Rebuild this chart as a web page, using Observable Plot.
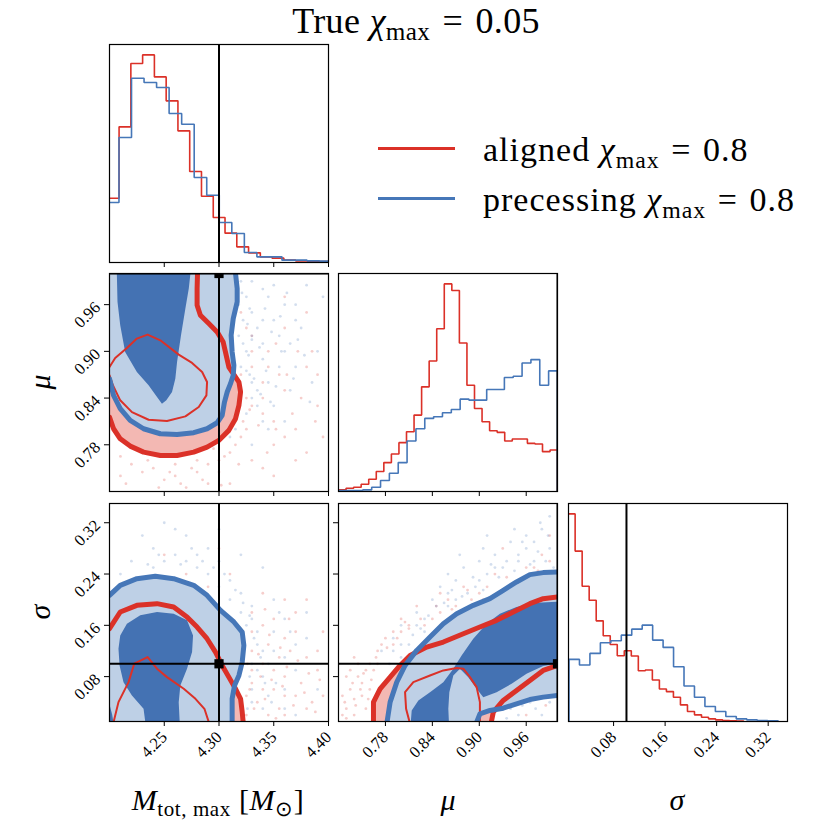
<!DOCTYPE html>
<html><head><meta charset="utf-8">
<script src="https://cdn.jsdelivr.net/npm/d3@7"></script>
<script src="https://cdn.jsdelivr.net/npm/@observablehq/plot@0.6"></script>
<style>
body{margin:0;background:#fff;}
#wrap{position:relative;width:831px;height:831px;font-family:"Liberation Serif",serif;color:#000;overflow:hidden;}
.txt{position:absolute;white-space:nowrap;line-height:1;}
.sub{font-size:0.7em;vertical-align:-0.28em;font-style:normal;}
.eq{margin:0 0.34em;}
.leg{position:absolute;height:3px;}
</style></head><body><div id="wrap"></div>
<script>
// ---------- data ----------
const mTicks = [4.25, 4.30, 4.35, 4.40];
const muTicks = [0.78, 0.84, 0.90, 0.96];
const sigTicks = [0.08, 0.16, 0.24, 0.32];
const mDomain = [4.2, 4.4], muDomain = [0.72, 1.0], sigDomain = [0.01, 0.35];
const truthM = 4.30, truthMu = 1.0, truthSig = 0.10;

// histograms (bin start, bin width, heights)
const mRedStart = 4.198, mRedWidth = 0.01075;
const mHistRed = [193,407,597,623,557,485,395,273,199,135,88,47,29,17,13,7,5,4,3];
const mBlueStart = 4.1972, mBlueWidth = 0.01145;
const mHistBlue = [180,375,553,540,525,447,415,255,202,120,87,30,17,17,7,7,5,4];

const muRedStart = 0.72, muRedWidth = 0.00966;
const muHistRed = [5,10,13,22,37,60,87,113,147,180,230,315,393,490,625,605,447,320,250,210,183,178,152,158,158,145,143,120,125];
const muBlueStart = 0.7172, muBlueWidth = 0.01131;
const muHistBlue = [3,3,3,5,13,33,55,87,152,189,220,225,237,247,278,275,275,307,307,343,347,387,397,320,363];

const sigRedStart = 0.0094, sigRedWidth = 0.0109;
const sigHistRed = [625,513,407,365,303,258,232,198,213,197,153,155,125,98,90,73,50,30,20,13,8,5,3,2,1];
const sigBlueStart = 0.0108, sigBlueWidth = 0.01623;
const sigHistBlue = [187,170,205,237,243,260,278,290,245,223,165,107,73,45,30,15,8,5,3,2];

// 2D contours (M_tot,max vs mu)
const blueOuter21 = [[4.19,0.865],[4.2,0.8649],[4.2037,0.8435],[4.2098,0.8263],[4.2189,0.8113],[4.2311,0.8006],[4.2464,0.7942],[4.2617,0.7933],[4.2769,0.7955],[4.2891,0.8006],[4.2983,0.8083],[4.3029,0.8178],[4.3050,0.8349],[4.3075,0.8478],[4.3105,0.8585],[4.3130,0.8692],[4.3136,0.8821],[4.3120,0.8992],[4.3111,0.9207],[4.3130,0.9421],[4.3166,0.9636],[4.3166,0.9807],[4.3151,1.0],[4.315,1.012],[4.19,1.012]];
const darkBlue21 = [[4.2067,1.012],[4.2067,1.0],[4.2073,0.9636],[4.2098,0.9335],[4.2143,0.8992],[4.2250,0.8735],[4.2357,0.8564],[4.2434,0.8413],[4.2479,0.8328],[4.2519,0.8371],[4.2571,0.8478],[4.2601,0.8649],[4.2617,0.8864],[4.2653,0.9207],[4.2693,0.955],[4.2724,0.9807],[4.2739,1.0],[4.2739,1.012]];
const redOuter21 = [[4.2806,1.012],[4.2800,0.9807],[4.2800,0.9593],[4.2830,0.9464],[4.2907,0.9357],[4.2983,0.9250],[4.3038,0.9121],[4.3066,0.8949],[4.3090,0.8799],[4.3136,0.8701],[4.3182,0.8606],[4.3197,0.8478],[4.3182,0.8306],[4.3151,0.8135],[4.3090,0.7985],[4.2998,0.7856],[4.2891,0.7770],[4.2769,0.7706],[4.2617,0.7663],[4.2464,0.7663],[4.2311,0.7706],[4.2189,0.7783],[4.2098,0.7877],[4.2037,0.8006],[4.2000,0.8156],[4.19,0.82],[4.19,1.012]];
const redInner21 = [[4.2000,0.8799],[4.2052,0.8915],[4.2159,0.9044],[4.2250,0.9164],[4.2348,0.9215],[4.2464,0.9142],[4.2632,0.8958],[4.2754,0.8851],[4.2846,0.8735],[4.2891,0.8606],[4.2885,0.8435],[4.2815,0.8285],[4.2693,0.8165],[4.2525,0.8105],[4.2357,0.8122],[4.2205,0.8220],[4.2098,0.8371],[4.2031,0.8564],[4.2000,0.8692],[4.195,0.875],[4.2000,0.8799]];
const blueDots21 = [[4.325,0.97],[4.33,0.95],[4.335,0.93],[4.322,0.91],[4.34,0.89],[4.328,0.87],[4.345,0.86],[4.33,0.84],[4.35,0.83],[4.36,0.96],[4.355,0.92],[4.37,0.88],[4.38,0.985],[4.365,0.85],[4.34,0.98],[4.32,0.99],[4.375,0.93],[4.39,0.9],[4.325,0.82],[4.345,0.80],[4.36,0.81],[4.385,0.86],[4.33,0.78],[4.35,0.94],[4.31,0.995],[4.395,0.97],[4.34,0.91],[4.36,0.90],[4.32,0.85],[4.37,0.96],
  [4.318,0.96],[4.322,0.94],[4.318,0.92],[4.325,0.90],[4.32,0.88],[4.33,0.86],[4.335,0.83],[4.34,0.81],[4.315,0.80],[4.31,0.79],[4.33,0.99],[4.345,0.97],[4.35,0.985],[4.33,0.92],[4.34,0.94],[4.325,0.875],[4.335,0.85],[4.355,0.88],[4.365,0.91],[4.37,0.94],
  [4.321,0.975],[4.328,0.955],[4.326,0.935],[4.33,0.915],[4.327,0.895],[4.337,0.905],[4.343,0.875],[4.332,0.865],[4.338,0.845],[4.347,0.835],[4.352,0.855],[4.357,0.9],[4.348,0.925],[4.356,0.945],[4.342,0.955],[4.362,0.975],[4.372,0.915],[4.368,0.865],[4.378,0.895],[4.383,0.835]];
const redDots21 = [[4.24,0.75],[4.26,0.74],[4.28,0.76],[4.22,0.755],[4.30,0.745],[4.29,0.73],[4.31,0.77],[4.32,0.79],[4.33,0.76],[4.34,0.82],[4.35,0.78],[4.36,0.85],[4.37,0.80],[4.38,0.88],[4.39,0.83],[4.33,0.88],[4.345,0.90],[4.36,0.93],[4.38,0.95],[4.325,0.84],[4.31,0.73],[4.27,0.725],[4.25,0.735],[4.35,0.74],[4.37,0.76],[4.395,0.79],[4.33,0.92],[4.355,0.87],[4.34,0.86],[4.30,0.76],[4.21,0.765],[4.385,0.9],[4.32,0.95],[4.36,0.97],
  [4.26,0.755],[4.28,0.745],[4.295,0.775],[4.315,0.78],[4.325,0.8],[4.33,0.83],[4.34,0.84],[4.32,0.87],[4.33,0.90],[4.325,0.93],[4.35,0.81],[4.36,0.79],[4.23,0.745],[4.245,0.725],[4.21,0.74],[4.285,0.735],[4.34,0.75],[4.375,0.84],[4.39,0.87],[4.38,0.77],
  [4.255,0.745],[4.265,0.73],[4.275,0.75],[4.29,0.755],[4.305,0.765],[4.318,0.755],[4.322,0.81],[4.328,0.825],[4.336,0.805],[4.344,0.77],[4.352,0.8],[4.345,0.88],[4.352,0.91],[4.362,0.87],[4.367,0.82],[4.372,0.9],[4.235,0.76],[4.215,0.73],[4.302,0.728],[4.388,0.81]];

// 2D contours (M_tot,max vs sigma)
const blueOuter31 = [[4.19,0.2068],[4.2,0.2068],[4.2098,0.2224],[4.2250,0.2328],[4.2418,0.2365],[4.2586,0.2328],[4.2769,0.2224],[4.2891,0.2068],[4.3014,0.1834],[4.3136,0.1652],[4.3212,0.1495],[4.3227,0.1287],[4.3212,0.1027],[4.3182,0.0818],[4.3142,0.0662],[4.3120,0.0454],[4.3120,0.0089],[4.312,-0.005],[4.19,-0.005]];
const redOuter31 = [[4.19,0.15],[4.2,0.1547],[4.2098,0.1808],[4.2250,0.1912],[4.2434,0.1938],[4.2586,0.1886],[4.2708,0.1730],[4.2800,0.1573],[4.2891,0.1391],[4.2968,0.1183],[4.3029,0.0975],[4.3090,0.0792],[4.3151,0.0610],[4.3197,0.0454],[4.3212,0.0246],[4.3221,0.0089],[4.3222,-0.005],[4.19,-0.005]];
const darkBlue31 = [[4.2082,0.1235],[4.2098,0.1443],[4.2159,0.1625],[4.2281,0.1756],[4.2434,0.1808],[4.2586,0.1782],[4.2708,0.1678],[4.2763,0.1443],[4.2754,0.1183],[4.2708,0.0923],[4.2647,0.0662],[4.2632,0.0402],[4.2641,0.0089],[4.2641,-0.005],[4.2327,-0.005],[4.2327,0.0089],[4.2311,0.0298],[4.2205,0.0506],[4.2128,0.0714],[4.2092,0.0975]];
const darkBlue31b = [[4.195,0.040],[4.2,0.037],[4.2025,0.02],[4.204,0.005],[4.204,-0.005],[4.195,-0.005]];
const redInner31 = [[4.2033,-0.005],[4.2037,0.0089],[4.2082,0.0402],[4.2174,0.0714],[4.2226,0.1001],[4.2348,0.1105],[4.2434,0.0923],[4.2525,0.0792],[4.2678,0.0610],[4.2785,0.0454],[4.2867,0.0298],[4.2907,0.0089],[4.2912,-0.005]];
const blueDots31 = [[4.22,0.26],[4.24,0.28],[4.26,0.27],[4.27,0.30],[4.25,0.32],[4.23,0.30],[4.28,0.25],[4.29,0.28],[4.30,0.26],[4.31,0.23],[4.32,0.21],[4.33,0.19],[4.325,0.16],[4.335,0.13],[4.33,0.10],[4.34,0.08],[4.345,0.05],[4.33,0.04],[4.35,0.12],[4.36,0.17],[4.37,0.09],[4.35,0.20],[4.38,0.14],[4.26,0.31],[4.21,0.24],[4.30,0.31],[4.34,0.25],[4.36,0.03],[4.39,0.06],[4.32,0.27],
  [4.24,0.25],[4.25,0.26],[4.27,0.26],[4.28,0.27],[4.29,0.24],[4.3,0.22],[4.31,0.20],[4.32,0.18],[4.33,0.17],[4.335,0.15],[4.34,0.12],[4.335,0.09],[4.33,0.06],[4.34,0.03],[4.36,0.11],[4.35,0.15],[4.37,0.13],[4.38,0.18],[4.36,0.06],[4.37,0.02],
  [4.235,0.255],[4.245,0.27],[4.265,0.255],[4.275,0.28],[4.285,0.26],[4.295,0.25],[4.305,0.24],[4.315,0.215],[4.322,0.195],[4.328,0.175],[4.332,0.14],[4.338,0.11],[4.342,0.07],[4.328,0.08],[4.345,0.1],[4.352,0.07],[4.348,0.04],[4.326,0.03],[4.365,0.15],[4.355,0.18]];
const redDots31 = [[4.33,0.07],[4.335,0.04],[4.34,0.10],[4.35,0.06],[4.36,0.08],[4.345,0.13],[4.37,0.05],[4.38,0.11],[4.33,0.15],[4.35,0.17],[4.36,0.14],[4.39,0.09],[4.325,0.02],[4.355,0.03],[4.37,0.18],[4.34,0.21],[4.31,0.24],[4.29,0.22],[4.27,0.24],[4.22,0.22],[4.205,0.20],[4.385,0.04],[4.33,0.12],[4.36,0.2],[4.395,0.15],[4.30,0.28],[4.25,0.27],
  [4.325,0.05],[4.33,0.09],[4.34,0.06],[4.345,0.02],[4.35,0.09],[4.36,0.05],[4.355,0.11],[4.365,0.12],[4.375,0.07],[4.38,0.03],[4.39,0.12],[4.37,0.15],[4.34,0.16],[4.33,0.18],[4.32,0.13],[4.36,0.02],[4.395,0.05],[4.38,0.2],[4.2,0.17],[4.21,0.21],
  [4.328,0.06],[4.332,0.03],[4.338,0.08],[4.342,0.045],[4.348,0.075],[4.352,0.015],[4.358,0.065],[4.362,0.095],[4.368,0.035],[4.372,0.105],[4.378,0.055],[4.382,0.085],[4.388,0.025],[4.392,0.075],[4.336,0.115],[4.346,0.145],[4.356,0.125],[4.326,0.1],[4.364,0.17],[4.342,0.185]];

// 2D contours (mu vs sigma)
const blueOuter32 = [[0.7817,-0.005],[0.7817,0.0063],[0.7860,0.0402],[0.7945,0.0714],[0.8051,0.0975],[0.8200,0.1209],[0.8370,0.1417],[0.8540,0.1625],[0.8711,0.1782],[0.8923,0.1912],[0.9136,0.2016],[0.9306,0.2146],[0.9476,0.2276],[0.9647,0.2391],[0.9817,0.2422],[1.0,0.2433],[1.012,0.2433],[1.012,0.0506],[1.0,0.0506],[0.9817,0.0480],[0.9647,0.0443],[0.9476,0.0376],[0.9306,0.0308],[0.9136,0.0272],[0.9008,0.0220],[0.8966,0.0089],[0.8966,-0.005]];
const redOuter32 = [[0.7647,-0.005],[0.7647,0.0037],[0.7647,0.0402],[0.7732,0.0610],[0.7860,0.0792],[0.7987,0.0975],[0.8115,0.1131],[0.8328,0.1261],[0.8540,0.1339],[0.8796,0.1469],[0.9008,0.1573],[0.9221,0.1678],[0.9434,0.1808],[0.9647,0.1938],[0.9817,0.2016],[1.0,0.2042],[1.012,0.2042],[1.012,0.0975],[1.0,0.0975],[0.9817,0.0897],[0.9647,0.0740],[0.9476,0.0584],[0.9306,0.0428],[0.9179,0.0246],[0.9145,0.0037],[0.9145,-0.005]];
const darkBlue32 = [[0.8115,-0.005],[0.8136,0.0272],[0.8221,0.0428],[0.8370,0.0558],[0.8540,0.0714],[0.8668,0.0923],[0.8774,0.1131],[0.8923,0.1391],[0.9093,0.1625],[0.9264,0.1782],[0.9476,0.1886],[0.9732,0.1954],[1.012,0.1974],[1.012,0.1027],[0.9817,0.0964],[0.9604,0.0844],[0.9413,0.0688],[0.9221,0.0558],[0.9051,0.0480],[0.8966,0.0610],[0.8859,0.0792],[0.8753,0.0923],[0.8668,0.0818],[0.8617,0.0558],[0.8604,0.0298],[0.8617,-0.005]];
const redInner32 = [[0.8115,-0.005],[0.8115,0.0063],[0.8064,0.0298],[0.8051,0.0558],[0.8157,0.0714],[0.8370,0.0818],[0.8540,0.0897],[0.8711,0.0933],[0.8796,0.0923],[0.8881,0.0792],[0.8966,0.0636],[0.9008,0.0402],[0.9008,0.0063],[0.9008,-0.005]];
const blueDots32 = [[0.80,0.16],[0.82,0.18],[0.84,0.20],[0.85,0.22],[0.87,0.23],[0.88,0.25],[0.90,0.26],[0.92,0.27],[0.94,0.29],[0.96,0.30],[0.98,0.31],[0.99,0.28],[0.97,0.26],[0.86,0.19],[0.83,0.15],[0.79,0.14],[0.81,0.13],[0.895,0.22],[0.93,0.25],[0.95,0.27],[0.91,0.30],[0.99,0.33],[0.875,0.27],[0.955,0.035],[0.98,0.02],[0.935,0.015],[0.99,0.04],[0.80,0.11],[0.775,0.12],[0.86,0.24],
  [0.82,0.16],[0.83,0.17],[0.845,0.19],[0.86,0.21],[0.87,0.20],[0.885,0.21],[0.9,0.23],[0.91,0.24],[0.92,0.25],[0.935,0.26],[0.95,0.26],[0.96,0.28],[0.97,0.29],[0.985,0.26],[0.995,0.25],[0.8,0.13],[0.79,0.12],[0.785,0.10],[0.94,0.03],[0.965,0.04],
  [0.815,0.145],[0.825,0.155],[0.835,0.175],[0.855,0.195],[0.865,0.215],[0.878,0.205],[0.892,0.235],[0.905,0.215],[0.915,0.255],[0.925,0.235],[0.945,0.245],[0.955,0.29],[0.965,0.255],[0.975,0.275],[0.988,0.3],[0.978,0.32],[0.945,0.31],[0.905,0.28],[0.95,0.02],[0.972,0.03]];
const redDots32 = [[0.73,0.03],[0.735,0.06],[0.74,0.02],[0.745,0.08],[0.75,0.05],[0.755,0.03],[0.76,0.1],[0.725,0.05],[0.77,0.12],[0.78,0.14],[0.79,0.15],[0.80,0.17],[0.82,0.19],[0.84,0.17],[0.86,0.20],[0.88,0.22],[0.90,0.21],[0.92,0.24],[0.94,0.22],[0.96,0.25],[0.98,0.27],[0.765,0.09],[0.74,0.11],[0.81,0.155],[0.85,0.21],[0.93,0.28],[0.97,0.23],[0.99,0.30],[0.96,0.02],[0.985,0.035],
  [0.73,0.015],[0.74,0.045],[0.75,0.07],[0.755,0.09],[0.76,0.06],[0.73,0.08],[0.745,0.1],[0.77,0.1],[0.775,0.13],[0.79,0.13],[0.8,0.15],[0.81,0.16],[0.83,0.16],[0.85,0.18],[0.87,0.19],[0.89,0.2],[0.91,0.22],[0.95,0.23],[0.97,0.25],[0.99,0.26],
  [0.728,0.04],[0.738,0.07],[0.742,0.035],[0.748,0.06],[0.752,0.085],[0.758,0.045],[0.762,0.075],[0.735,0.09],[0.725,0.02],[0.768,0.11],[0.782,0.125],[0.795,0.14],[0.805,0.165],[0.825,0.17],[0.845,0.19],[0.865,0.185],[0.885,0.215],[0.905,0.2],[0.935,0.235],[0.975,0.245]];

// ---------- styles ----------
const RED = "#db3128", BLUE = "#4677b8", BLUE_DARK = "#4472b3", BLUE_LIGHT = "#bed0e6", PINK = "#f3b8b3";
const wrap = document.getElementById("wrap");
const PW = 219, PH = 218;
const ML = 80, MR = 4, MT = 4, MB = 70;
const TICK_FONT = 16.5;
const fmt = d3.format(".2f");
const noLab = () => "";

function steps(start, width, h) {
  const pts = [{x: start, y: 0}];
  h.forEach((v, i) => { pts.push({x: start + i * width, y: v}); pts.push({x: start + (i + 1) * width, y: v}); });
  pts.push({x: start + h.length * width, y: 0});
  return pts;
}
const P = a => a.map(([x, y]) => ({x, y}));

function panel(left, top, x, y, marks) {
  const svg = Plot.plot({
    width: PW + ML + MR, height: PH + MT + MB,
    marginLeft: ML, marginRight: MR, marginTop: MT, marginBottom: MB,
    x, y,
    style: {fontFamily: "Liberation Serif", fontSize: TICK_FONT + "px", background: "none", overflow: "visible", color: "black", maxWidth: "none"},
    marks
  });
  d3.select(svg).selectAll("g").filter(function() { return this.getAttribute("font-size") != null; }).attr("font-size", TICK_FONT);
  d3.select(svg).selectAll("text").attr("font-size", TICK_FONT).style("font-size", TICK_FONT + "px").style("font-family", "Liberation Serif");
  svg.style.position = "absolute";
  svg.style.left = (left - ML) + "px";
  svg.style.top = (top - MT) + "px";
  wrap.appendChild(svg);
}
const axX = (domain, ticks, lab) => ({domain, ticks, tickFormat: lab ? fmt : noLab, tickRotate: -45, tickSize: 5, tickPadding: 8, label: null});
const axY = (domain, ticks, lab) => ({domain, ticks, tickFormat: lab ? fmt : noLab, tickRotate: -45, tickSize: 5, tickPadding: 7, label: null});

function histMarks(redStart, redW, redH, blueStart, blueW, blueH, truth) {
  return [
    Plot.line(steps(redStart, redW, redH), {x: "x", y: "y", stroke: RED, strokeWidth: 1.6, strokeLinejoin: "miter", clip: true}),
    Plot.line(steps(blueStart, blueW, blueH), {x: "x", y: "y", stroke: BLUE, strokeWidth: 1.6, strokeLinejoin: "miter", clip: true}),
    Plot.ruleX([truth], {stroke: "black", strokeWidth: 2, clip: true}),
    Plot.frame({stroke: "black", strokeWidth: 1.2})
  ];
}
function poly(a, o) { return Plot.line(P(a), {x: "x", y: "y", curve: "linear", clip: true, ...o}); }
function twoD(d) {
  const m = [
    Plot.dot(P(d.redDots), {x: "x", y: "y", r: 1.4, fill: RED, fillOpacity: 0.24, clip: true}),
    Plot.dot(P(d.blueDots), {x: "x", y: "y", r: 1.4, fill: BLUE, fillOpacity: 0.24, clip: true}),
    poly(d.redOuter, {fill: PINK, stroke: "none"}),
    poly(d.blueOuter, {fill: BLUE_LIGHT, stroke: "none"})
  ];
  d.dark.forEach(a => m.push(poly(a, {fill: BLUE_DARK, stroke: "none"})));
  m.push(poly(d.redInner, {fill: "none", stroke: RED, strokeWidth: 2}));
  m.push(poly(d.redOuter, {fill: "none", stroke: RED, strokeWidth: 5}));
  m.push(poly(d.blueOuter, {fill: "none", stroke: BLUE, strokeWidth: 5}));
  m.push(Plot.ruleX([d.tx], {stroke: "black", strokeWidth: 2, clip: true}));
  m.push(Plot.ruleY([d.ty], {stroke: "black", strokeWidth: 2, clip: true}));
  m.push(Plot.dot([{x: d.tx, y: d.ty}], {x: "x", y: "y", symbol: "square", r: 5.2, fill: "black", clip: true}));
  m.push(Plot.frame({stroke: "black", strokeWidth: 1.2}));
  return m;
}

const cols = [109, 338, 568], rows = [44, 273, 503];

panel(cols[0], rows[0], axX(mDomain, mTicks, false), {domain: [0, 1.05 * Math.max(...mHistRed, ...mHistBlue)], axis: null},
  histMarks(mRedStart, mRedWidth, mHistRed, mBlueStart, mBlueWidth, mHistBlue, truthM));
panel(cols[0], rows[1], axX(mDomain, mTicks, false), axY(muDomain, muTicks, true),
  twoD({redDots: redDots21, blueDots: blueDots21, redOuter: redOuter21, blueOuter: blueOuter21, dark: [darkBlue21], redInner: redInner21, tx: truthM, ty: truthMu}));
panel(cols[1], rows[1], axX(muDomain, muTicks, false), {domain: [0, 1.05 * Math.max(...muHistRed, ...muHistBlue)], axis: null},
  histMarks(muRedStart, muRedWidth, muHistRed, muBlueStart, muBlueWidth, muHistBlue, truthMu));
panel(cols[0], rows[2], axX(mDomain, mTicks, true), axY(sigDomain, sigTicks, true),
  twoD({redDots: redDots31, blueDots: blueDots31, redOuter: redOuter31, blueOuter: blueOuter31, dark: [darkBlue31, darkBlue31b], redInner: redInner31, tx: truthM, ty: truthSig}));
panel(cols[1], rows[2], axX(muDomain, muTicks, true), axY(sigDomain, sigTicks, false),
  twoD({redDots: redDots32, blueDots: blueDots32, redOuter: redOuter32, blueOuter: blueOuter32, dark: [darkBlue32], redInner: redInner32, tx: truthMu, ty: truthSig}));
panel(cols[2], rows[2], axX(sigDomain, sigTicks, true), {domain: [0, 1.05 * Math.max(...sigHistRed, ...sigHistBlue)], axis: null},
  histMarks(sigRedStart, sigRedWidth, sigHistRed, sigBlueStart, sigBlueWidth, sigHistBlue, truthSig));

// ---------- texts ----------
function txt(html, css) {
  const d = document.createElement("div");
  d.className = "txt"; d.innerHTML = html;
  Object.assign(d.style, css);
  wrap.appendChild(d);
  return d;
}
txt('True <i>χ</i><span class="sub">max</span><span class="eq">=</span>0.05', {left: "416px", top: "3px", fontSize: "36px", letterSpacing: "0.01em", transform: "translateX(-50%)"});
txt('aligned <i>χ</i><span class="sub">max</span><span class="eq">=</span>0.8', {left: "483px", top: "133px", fontSize: "34px", letterSpacing: "0.03em"});
txt('precessing <i>χ</i><span class="sub">max</span><span class="eq">=</span>0.8', {left: "483px", top: "183px", fontSize: "34px", letterSpacing: "0.03em"});
const l1 = document.createElement("div"); l1.className = "leg"; Object.assign(l1.style, {left: "378px", top: "147px", width: "77px", background: RED}); wrap.appendChild(l1);
const l2 = document.createElement("div"); l2.className = "leg"; Object.assign(l2.style, {left: "378px", top: "197px", width: "77px", background: BLUE}); wrap.appendChild(l2);
txt('<i>M</i><span class="sub">tot, max</span> [<i>M</i><span class="sub">⊙</span>]', {left: "218px", top: "785px", fontSize: "30px", letterSpacing: "0.02em", transform: "translateX(-50%)"});
txt('<i>μ</i>', {left: "448px", top: "785px", fontSize: "30px", transform: "translateX(-50%)"});
txt('<i>σ</i>', {left: "677px", top: "785px", fontSize: "30px", transform: "translateX(-50%)"});
txt('<i>μ</i>', {left: "40px", top: "382px", fontSize: "30px", transform: "translate(-50%,-50%) rotate(-90deg)"});
txt('<i>σ</i>', {left: "40px", top: "612px", fontSize: "30px", transform: "translate(-50%,-50%) rotate(-90deg)"});
</script></body></html>
